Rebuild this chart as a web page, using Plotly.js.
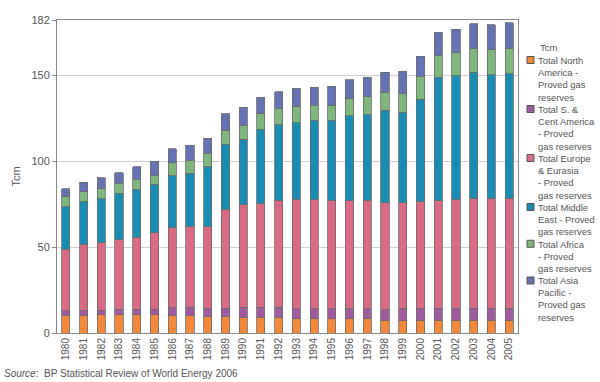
<!DOCTYPE html>
<html>
<head>
<meta charset="utf-8">
<script src="https://cdn.plot.ly/plotly-3.0.1.min.js"></script>
<style>html,body{margin:0;padding:0;background:#fff;}#chart{width:600px;height:382px;}</style>
</head>
<body>
<div id="chart"></div>
<script>
var years = ["1980","1981","1982","1983","1984","1985","1986","1987","1988","1989","1990","1991","1992","1993","1994","1995","1996","1997","1998","1999","2000","2001","2002","2003","2004","2005"];
var northAmerica = [10.1,10.1,10.5,10.7,10.7,10.7,9.9,9.9,9.5,9.5,9.1,9.1,8.8,8.4,8.4,8.4,8.4,8.4,7.2,7.2,7.4,7.4,7.4,7.4,7.4,7.4];
var sCentAmerica = [2.7,3.1,2.7,3.1,3.1,3.1,4.7,5.1,4.9,4.9,5.9,5.9,6.2,5.8,5.8,5.8,5.8,5.8,6.4,7.2,7.0,7.0,7.0,7.0,7.0,7.0];
var europeEurasia = [36.0,38.3,39.3,40.3,41.8,44.5,46.5,47.0,47.6,57.4,59.7,60.3,62.0,63.6,63.6,63.0,62.6,63.0,62.2,61.3,61.8,62.4,63.0,64.0,64.0,64.0];
var middleEast = [24.5,24.9,25.7,27.0,27.8,27.9,30.3,31.0,34.8,37.9,37.9,43.1,44.2,44.5,45.9,46.1,49.6,49.6,53.7,52.3,59.7,71.8,72.2,73.1,71.9,72.3];
var africa = [6.2,5.9,6.0,5.6,5.7,5.6,7.6,7.5,7.6,8.3,8.2,9.4,9.5,9.6,8.7,9.1,9.9,10.7,10.5,11.4,13.1,12.8,13.4,13.8,14.4,14.8];
var asiaPacific = [4.5,5.4,6.2,6.5,7.7,8.2,8.0,8.6,8.8,9.6,10.5,9.3,9.7,10.5,10.5,11.1,11.1,11.3,11.5,12.9,12.0,13.4,13.6,14.4,14.4,14.8];
var seriesNames = [
  "Total North<br>America -<br>Proved gas<br>reserves",
  "Total S. &<br>Cent America<br>- Proved<br>gas reserves",
  "Total Europe<br>& Eurasia<br>- Proved<br>gas reserves",
  "Total Middle<br>East - Proved<br>gas reserves",
  "Total Africa<br>- Proved<br>gas reserves",
  "Total Asia<br>Pacific -<br>Proved gas<br>reserves"
];
var legendTitle = "Tcm";
var yTicks = [0,50,100,150,182];

var seriesData = [northAmerica, sCentAmerica, europeEurasia, middleEast, africa, asiaPacific];
var colors = ["#F4883A","#A05BA0","#DB6A84","#198CB4","#7DB77B","#6572B3"];
var traces = seriesData.map(function(vals, i){
  return {
    type: "bar", x: years, y: vals, name: seriesNames[i],
    marker: {color: colors[i], line: {color: "#6a6a6a", width: 0.8}},
    hoverinfo: "y+name", showlegend: false
  };
});

// plot area geometry in pixels (for the hand-built legend)
var L = 57, R = 518, T = 20, B = 333;
function px2x(p){ return (p - L) / (R - L); }
function px2y(p){ return (B - p) / (B - T); }

var annotations = [];
var shapes = [];
var lineH = 12.25;
var firstLine = 60;
annotations.push({
  xref: "paper", yref: "paper", x: px2x(538), y: px2y(47), xanchor: "left", yanchor: "middle",
  text: legendTitle, showarrow: false, font: {size: 9.5, color: "#555"}
});
var cursor = firstLine;
seriesNames.forEach(function(name, i){
  var nLines = name.split("<br>").length;
  annotations.push({
    xref: "paper", yref: "paper", x: px2x(536), y: px2y(cursor - 7.2), xanchor: "left", yanchor: "top",
    align: "left", text: name, showarrow: false, font: {size: 9.4, color: "#555"}
  });
  shapes.push({
    type: "rect", xref: "paper", yref: "paper",
    x0: px2x(527), x1: px2x(534), y0: px2y(cursor - 3.5), y1: px2y(cursor + 3.5),
    fillcolor: colors[i], line: {color: "#555", width: 1}
  });
  cursor += nLines * lineH;
});
annotations.push({
  xref: "paper", yref: "paper", x: px2x(2), y: px2y(366), xanchor: "left", yanchor: "top",
  text: "<i>Source</i>:  BP Statistical Review of World Energy 2006",
  showarrow: false, font: {size: 10, color: "#555"}
});

var layout = {
  width: 600, height: 382,
  margin: {l: L, r: 600 - R, t: T, b: 382 - B, autoexpand: false},
  barmode: "stack", bargap: 0.54,
  paper_bgcolor: "#fff", plot_bgcolor: "#fff",
  font: {family: "Liberation Sans, Arial, sans-serif", size: 10, color: "#555"},
  showlegend: false,
  xaxis: {
    type: "category", tickangle: -90, ticks: "", showgrid: false,
    showline: true, linecolor: "#888", linewidth: 1, mirror: true,
    tickfont: {size: 10, color: "#555"}
  },
  yaxis: {
    range: [0, 182], tickvals: yTicks, ticktext: yTicks.map(String),
    showgrid: true, gridcolor: "#d0d0d0", gridwidth: 1,
    showline: true, linecolor: "#888", linewidth: 1, mirror: true,
    ticks: "outside", ticklen: 4, tickcolor: "#888",
    tickfont: {size: 11, color: "#555"}, zeroline: false,
    title: {text: "Tcm", font: {size: 11, color: "#555"}, standoff: 8}
  },
  annotations: annotations,
  shapes: shapes
};
Plotly.newPlot("chart", traces, layout, {displayModeBar: false, staticPlot: true});
</script>
</body>
</html>
